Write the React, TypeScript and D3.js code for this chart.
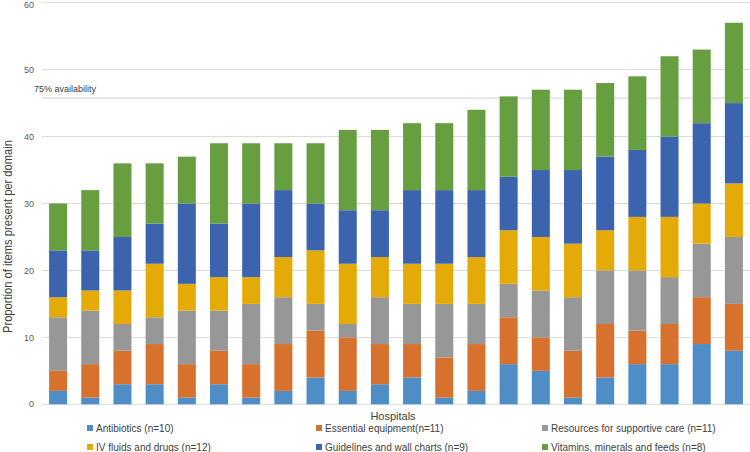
import React from "react";
import * as d3 from "d3";

const hospitals = Array.from({ length: 22 }, (_, i) => `H${i + 1}`);
const seriesNames = [
  "Antibiotics (n=10)",
  "Essential equipment(n=11)",
  "Resources for supportive care (n=11)",
  "IV fluids and drugs (n=12)",
  "Guidelines and wall charts (n=9)",
  "Vitamins, minerals and feeds (n=8)",
];
const antibiotics = [2, 1, 3, 3, 1, 3, 1, 2, 4, 2, 3, 4, 1, 2, 6, 5, 1, 4, 6, 6, 9, 8];
const equipment = [3, 5, 5, 6, 5, 5, 5, 7, 7, 8, 6, 5, 6, 7, 7, 5, 7, 8, 5, 6, 7, 7];
const supportive = [8, 8, 4, 4, 8, 6, 9, 7, 4, 2, 7, 6, 8, 6, 5, 7, 8, 8, 9, 7, 8, 10];
const ivFluids = [3, 3, 5, 8, 4, 5, 4, 6, 8, 9, 6, 6, 6, 7, 8, 8, 8, 6, 8, 9, 6, 8];
const guidelines = [7, 6, 8, 6, 12, 8, 11, 10, 7, 8, 7, 11, 11, 10, 8, 10, 11, 11, 10, 12, 12, 12];
const vitamins = [7, 9, 11, 9, 7, 12, 9, 7, 9, 12, 12, 10, 10, 12, 12, 12, 12, 11, 11, 12, 11, 12];
const yTicks = [0, 10, 20, 30, 40, 50, 60];
const thresholdValue = 45.75;
const thresholdLabel = "75%  availability";
const colors = ["#4F8DC6", "#D6712E", "#979797", "#E4AA07", "#3C63AD", "#679E40"];

export default function App() {
  const W = 750, H = 452;
  const left = 42, right = 750, top = 2.7, bottom = 404.3;
  const rows = hospitals.map((h, i) => ({
    h,
    s0: antibiotics[i], s1: equipment[i], s2: supportive[i],
    s3: ivFluids[i], s4: guidelines[i], s5: vitamins[i],
  }));
  const keys = ["s0", "s1", "s2", "s3", "s4", "s5"];
  const stacked = d3.stack<any>().keys(keys)(rows);
  const x = d3.scaleBand().domain(hospitals).range([left, right]).paddingInner(0.44).paddingOuter(0.22);
  const y = d3.scaleLinear().domain([0, 60]).range([bottom, top]);
  const font = "'Liberation Sans Narrow', 'Liberation Sans', Arial, sans-serif";
  const legendCols = [87, 316, 542];
  const legendRows = [428, 447];

  return (
    <svg width={W} height={H} style={{ position: "absolute", left: 0, top: 0, background: "#fff" }} fontFamily={font}>
      {yTicks.map((t) => (
        <g key={t}>
          <line x1={left} x2={right} y1={y(t)} y2={y(t)} stroke="#D9D9D9" strokeWidth={1} />
          <text x={34} y={Math.max(y(t), 4.5)} dy="0.35em" textAnchor="end" fontSize={9} fill="#595959">{t}</text>
        </g>
      ))}
      <line x1={left} x2={right} y1={y(thresholdValue)} y2={y(thresholdValue)} stroke="#D0D0D0" strokeWidth={1} />
      <text x={34} y={y(thresholdValue) - 9} dy="0.35em" fontSize={9} fill="#404040">{thresholdLabel}</text>
      {stacked.map((layer, si) => (
        <g key={si} fill={colors[si]}>
          {layer.map((d: any, i: number) => (
            <rect key={i} x={x(hospitals[i])} width={x.bandwidth()} y={y(d[1])} height={y(d[0]) - y(d[1])} />
          ))}
        </g>
      ))}
      <text transform={`translate(12,236.5) rotate(-90)`} textAnchor="middle" fontSize={12} fill="#404040"
        textLength={193} lengthAdjust="spacingAndGlyphs">
        Proportion of items present per domain
      </text>
      <text x={393} y={416} dy="0.35em" textAnchor="middle" fontSize={11} fill="#404040">Hospitals</text>
      {seriesNames.map((n, i) => {
        const cx = legendCols[i % 3];
        const cy = legendRows[Math.floor(i / 3)];
        return (
          <g key={n}>
            <rect x={cx} y={cy - 3} width={6} height={6} fill={colors[i]} />
            <text x={cx + 9} y={cy} dy="0.35em" fontSize={10} fill="#404040">{n}</text>
          </g>
        );
      })}
    </svg>
  );
}
